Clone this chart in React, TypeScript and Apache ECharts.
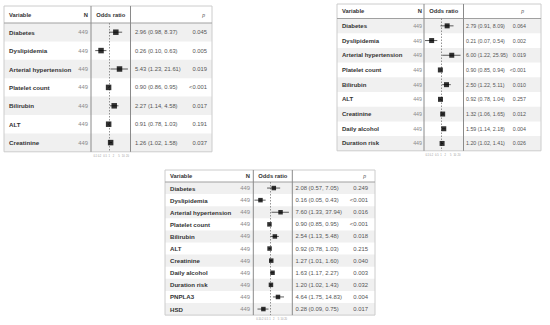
import React, { useEffect, useRef } from "react";
import * as echarts from "echarts";

// ---------- Data ----------
const varsA = ["Diabetes", "Dyslipidemia", "Arterial hypertension", "Platelet count", "Bilirubin", "ALT", "Creatinine"];
const nA = [449, 449, 449, 449, 449, 449, 449];
const orA = [2.96, 0.26, 5.43, 0.9, 2.27, 0.91, 1.26];
const loA = [0.98, 0.1, 1.23, 0.86, 1.14, 0.78, 1.02];
const hiA = [8.37, 0.63, 21.61, 0.95, 4.58, 1.03, 1.58];
const pA = ["0.045", "0.005", "0.019", "<0.001", "0.017", "0.191", "0.037"];

const varsB = ["Diabetes", "Dyslipidemia", "Arterial hypertension", "Platelet count", "Bilirubin", "ALT", "Creatinine", "Daily alcohol", "Duration risk"];
const nB = [449, 449, 449, 449, 449, 449, 449, 449, 449];
const orB = [2.79, 0.21, 6.0, 0.9, 2.5, 0.92, 1.32, 1.59, 1.2];
const loB = [0.91, 0.07, 1.22, 0.85, 1.22, 0.78, 1.06, 1.14, 1.02];
const hiB = [8.09, 0.54, 25.95, 0.94, 5.11, 1.04, 1.65, 2.18, 1.41];
const pB = ["0.064", "0.002", "0.019", "<0.001", "0.010", "0.257", "0.012", "0.004", "0.026"];

const varsC = ["Diabetes", "Dyslipidemia", "Arterial hypertension", "Platelet count", "Bilirubin", "ALT", "Creatinine", "Daily alcohol", "Duration risk", "PNPLA3", "HSD"];
const nC = [449, 449, 449, 449, 449, 449, 449, 449, 449, 449, 449];
const orC = [2.08, 0.16, 7.6, 0.9, 2.54, 0.92, 1.27, 1.63, 1.2, 4.64, 0.28];
const loC = [0.57, 0.05, 1.33, 0.85, 1.13, 0.78, 1.01, 1.17, 1.02, 1.75, 0.09];
const hiC = [7.05, 0.43, 37.94, 0.95, 5.48, 1.03, 1.6, 2.27, 1.43, 14.83, 0.75];
const pC = ["0.249", "<0.001", "0.016", "<0.001", "0.018", "0.215", "0.040", "0.003", "0.032", "0.004", "0.017"];

const tickValues = [0.1, 0.2, 0.5, 1, 2, 5, 10, 20];

// ---------- Layout ----------
type Panel = {
  vars: string[]; n: number[]; or: number[]; lo: number[]; hi: number[]; p: string[];
  left: number; right: number; top: number; headH: number; rowH: number;
  nRight: number; sep1: number; sep2: number; estX: number; pRight: number;
  min: number; max: number; sq: number; numFont: number; nameFont: number;
};

const panels: Panel[] = [
  { vars: varsA, n: nA, or: orA, lo: loA, hi: hiA, p: pA,
    left: 4, right: 212, top: 6, headH: 17, rowH: 18.4,
    nRight: 88, sep1: 91, sep2: 130.5, estX: 135, pRight: 207,
    min: Math.exp(-3), max: Math.exp(3.5), sq: 5.5, numFont: 5.8, nameFont: 6.2 },
  { vars: varsB, n: nB, or: orB, lo: loB, hi: hiB, p: pB,
    left: 337, right: 541, top: 4, headH: 14.5, rowH: 14.7,
    nRight: 422, sep1: 424, sep2: 463.5, estX: 466, pRight: 526,
    min: Math.exp(-17 / 6), max: Math.exp(22.5 / 6), sq: 5, numFont: 5.3, nameFont: 6 },
  { vars: varsC, n: nC, or: orC, lo: loC, hi: hiC, p: pC,
    left: 165, right: 375, top: 170, headH: 12, rowH: 12.1,
    nRight: 250, sep1: 253.3, sep2: 292.3, estX: 295.5, pRight: 368,
    min: Math.exp(-16.7 / 5.2), max: Math.exp(22.3 / 5.2), sq: 4.5, numFont: 5.9, nameFont: 6.1 },
];

const FONT = "'Liberation Sans', Arial, sans-serif";

export default function App() {
  const ref = useRef<HTMLDivElement>(null);

  useEffect(() => {
    if (!ref.current) return;
    const chart = echarts.init(ref.current, undefined, { renderer: "svg" });

    const graphic: any[] = [];
    const grid: any[] = [];
    const xAxis: any[] = [];
    const yAxis: any[] = [];
    const series: any[] = [];

    panels.forEach((P, k) => {
      const rowsTop = P.top + P.headH;
      const bottom = rowsTop + P.vars.length * P.rowH;
      const W = P.right - P.left;

      // row shading
      P.vars.forEach((_, i) => {
        if (i % 2 === 0) {
          graphic.push({
            type: "rect", z: 0, silent: true,
            shape: { x: P.left, y: rowsTop + i * P.rowH, width: W, height: P.rowH },
            style: { fill: "#f0f0f0" },
          });
        }
      });
      // outer box
      graphic.push({
        type: "rect", z: 1, silent: true,
        shape: { x: P.left, y: P.top, width: W, height: bottom - P.top },
        style: { fill: "none", stroke: "#cccccc", lineWidth: 1 },
      });
      // header bottom
      graphic.push({
        type: "line", z: 1, silent: true,
        shape: { x1: P.left, y1: rowsTop, x2: P.right, y2: rowsTop },
        style: { stroke: "#a0a0a0", lineWidth: 1 },
      });
      // separators
      [P.sep1, P.sep2].forEach((sx) => {
        graphic.push({
          type: "line", z: 1, silent: true,
          shape: { x1: sx, y1: P.top, x2: sx, y2: bottom },
          style: { stroke: "#8a8a8a", lineWidth: 1 },
        });
      });
      // headers
      const hy = P.top + P.headH / 2;
      const hdr = (text: string, x: number, align: string, extra: any = {}) => ({
        type: "text", z: 5, silent: true, x, y: hy,
        style: { text, fill: "#333", font: `bold 5.8px ${FONT}`, align, verticalAlign: "middle", ...extra },
      });
      graphic.push(hdr("Variable", P.left + 5, "left"));
      graphic.push(hdr("N", P.nRight, "right"));
      graphic.push(hdr("Odds ratio", (P.sep1 + P.sep2) / 2, "center"));
      graphic.push(hdr("p", P.pRight - 2, "right", { font: `italic 5px ${FONT}`, fill: "#555" }));

      // rows
      P.vars.forEach((v, i) => {
        const y = rowsTop + (i + 0.5) * P.rowH;
        graphic.push({
          type: "text", z: 5, silent: true, x: P.left + 5, y,
          style: { text: v, fill: "#333", font: `bold ${P.nameFont}px ${FONT}`, align: "left", verticalAlign: "middle" },
        });
        graphic.push({
          type: "text", z: 5, silent: true, x: P.nRight, y,
          style: { text: String(P.n[i]), fill: "#8a8a8a", font: `${P.numFont}px ${FONT}`, align: "right", verticalAlign: "middle" },
        });
        graphic.push({
          type: "text", z: 5, silent: true, x: P.estX, y,
          style: {
            text: `${P.or[i].toFixed(2)} (${P.lo[i].toFixed(2)}, ${P.hi[i].toFixed(2)})`,
            fill: "#555", font: `${P.numFont}px ${FONT}`, align: "left", verticalAlign: "middle",
          },
        });
        graphic.push({
          type: "text", z: 5, silent: true, x: P.pRight, y,
          style: { text: P.p[i], fill: "#555", font: `${P.numFont}px ${FONT}`, align: "right", verticalAlign: "middle" },
        });
      });

      // forest plot grid
      grid.push({ left: P.sep1, top: rowsTop, width: P.sep2 - P.sep1, height: bottom - rowsTop, show: false });
      xAxis.push({
        type: "log", gridIndex: k, min: P.min, max: P.max,
        axisLine: { show: false }, axisTick: { show: false }, splitLine: { show: false },
        axisLabel: {
          show: true, customValues: tickValues, fontSize: 2.6, color: "#999", margin: 3,
          fontFamily: FONT, formatter: (v: number) => String(v),
        },
      });
      yAxis.push({
        type: "category", gridIndex: k, data: P.vars, inverse: true,
        axisLine: { show: false }, axisTick: { show: false }, axisLabel: { show: false }, splitLine: { show: false },
      });
      series.push({
        type: "custom", xAxisIndex: k, yAxisIndex: k, z: 10,
        data: P.vars.map((v, i) => [P.lo[i], P.hi[i], i]),
        encode: { x: [0, 1], y: 2 },
        renderItem: (params: any, api: any) => {
          const a = api.coord([api.value(0), api.value(2)]);
          const b = api.coord([api.value(1), api.value(2)]);
          return {
            type: "line",
            shape: { x1: a[0], y1: a[1], x2: b[0], y2: b[1] },
            style: { stroke: "#333", lineWidth: 0.8 },
          };
        },
      });
      series.push({
        type: "scatter", xAxisIndex: k, yAxisIndex: k, z: 11,
        symbol: "rect", symbolSize: P.sq,
        itemStyle: { color: "#000" },
        data: P.vars.map((v, i) => [P.or[i], i]),
        markLine: {
          silent: true, symbol: "none", label: { show: false },
          lineStyle: { color: "#777", type: [1.5, 1.5], width: 0.8 },
          data: [{ xAxis: 1 }],
        },
      });
    });

    chart.setOption({
      animation: false,
      backgroundColor: "#ffffff",
      textStyle: { fontFamily: FONT },
      graphic: { elements: graphic },
      grid, xAxis, yAxis, series,
    });

    return () => chart.dispose();
  }, []);

  return (
    <div
      ref={ref}
      style={{ position: "absolute", left: 0, top: 0, width: 550, height: 325 }}
    />
  );
}
